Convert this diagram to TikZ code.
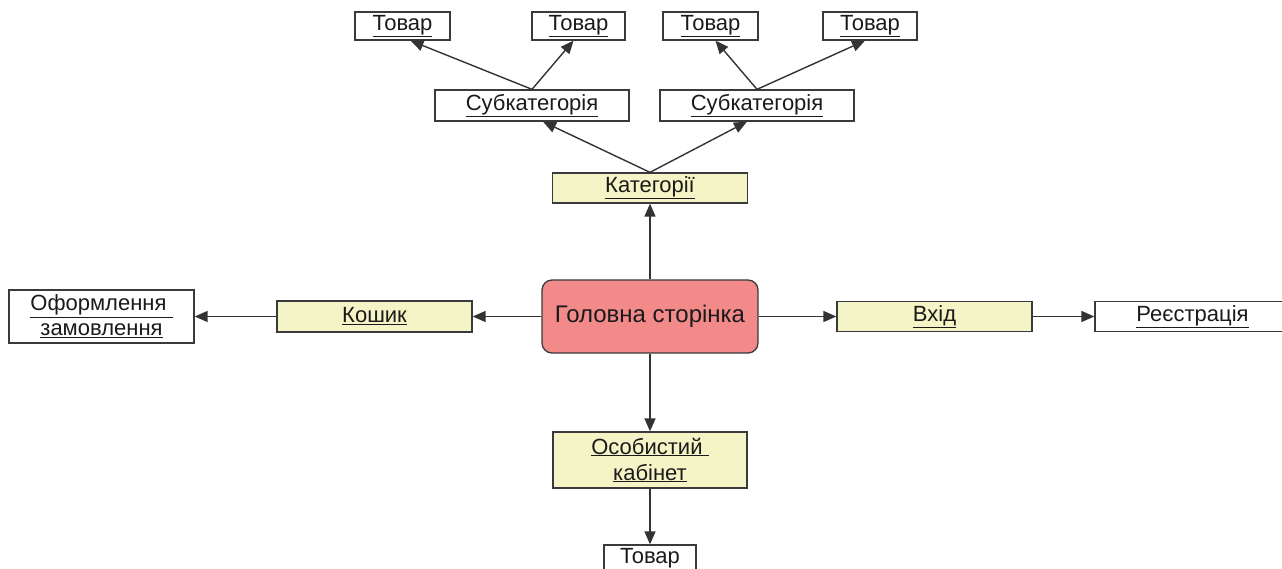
\documentclass[tikz,border=0pt]{standalone}
\usepackage{fontspec}
\setmainfont{Liberation Sans}
\usetikzlibrary{arrows.meta,calc}
\definecolor{bordergray}{HTML}{3A3A3A}
\definecolor{linegray}{HTML}{333333}
\definecolor{ylw}{HTML}{F4F4C6}
\definecolor{salmon}{HTML}{F28A8A}
\definecolor{txt}{HTML}{1A1A1A}
\tikzset{
  boxnode/.style={draw=bordergray, line width=1.3pt, fill=white, inner sep=0pt,
    minimum height=28pt, text=txt, align=center,
    font=\fontsize{22}{25}\selectfont},
  ybox/.style={boxnode, fill=ylw},
  mainnode/.style={boxnode, fill=salmon, rounded corners=10pt, font=\fontsize{24}{28}\selectfont},
  conn/.style={draw=linegray, line width=1.4pt, -{Triangle[length=13pt,width=11pt]}}
}
\begin{document}
\begin{tikzpicture}[x=1pt,y=-1pt]
\useasboundingbox (0,0) rectangle (1282,569);
% top row
\node[boxnode, minimum width=95pt] (t1) at (402.5,26) {\underline{Товар}};
\node[boxnode, minimum width=93pt] (t2) at (578.5,26) {\underline{Товар}};
\node[boxnode, minimum width=95pt] (t3) at (710.5,26) {\underline{Товар}};
\node[boxnode, minimum width=94pt] (t4) at (870,26) {\underline{Товар}};
% subcategories
\node[boxnode, minimum width=194pt, minimum height=31pt] (s1) at (532,105.5) {\underline{Субкатегорія}};
\node[boxnode, minimum width=194pt, minimum height=31pt] (s2) at (757,105.5) {\underline{Субкатегорія}};
% categories
\node[ybox, minimum width=195pt, minimum height=30pt] (cat) at (650,188) {\underline{Категорії}};
% main
\node[mainnode, minimum width=216pt, minimum height=73pt] (main) at (650,316.5) {Головна сторінка};
% left
\node[ybox, minimum width=195pt, minimum height=31pt] (kosh) at (374.5,316.5) {\underline{Кошик}};
\node[boxnode, minimum width=185pt, minimum height=53pt, font=\fontsize{22}{25}\selectfont] (oform) at (101.5,316.5) {\underline{Оформлення\ }\\\underline{замовлення}};
% right
\node[ybox, minimum width=195pt, minimum height=30pt] (vhid) at (934.5,316.5) {\underline{Вхід}};
\node[boxnode, minimum width=195pt, minimum height=30pt] (reg) at (1192.5,316.5) {\underline{Реєстрація}};
% bottom
\node[ybox, minimum width=194pt, minimum height=56pt, font=\fontsize{22}{26}\selectfont] (osob) at (650,460) {\underline{Особистий\ }\\\underline{кабінет}};
\node[boxnode, minimum width=92pt] (t5) at (650,559) {\underline{Товар}};
% connectors
\draw[conn] (main.north) -- (cat.south);
\draw[conn] (cat.north) -- ($(s1.south)+(11,0)$);
\draw[conn] (cat.north) -- ($(s2.south)+(-10,0)$);
\draw[conn] (s1.north) -- ($(t1.south)+(8,0)$);
\draw[conn] (s1.north) -- ($(t2.south)+(-5,0)$);
\draw[conn] (s2.north) -- ($(t3.south)+(5,0)$);
\draw[conn] (s2.north) -- ($(t4.south)+(-5,0)$);
\draw[conn] (main.west) -- (kosh.east);
\draw[conn] (kosh.west) -- (oform.east);
\draw[conn] (main.east) -- (vhid.west);
\draw[conn] (vhid.east) -- (reg.west);
\draw[conn] (main.south) -- (osob.north);
\draw[conn] (osob.south) -- (t5.north);
\end{tikzpicture}
\end{document}
